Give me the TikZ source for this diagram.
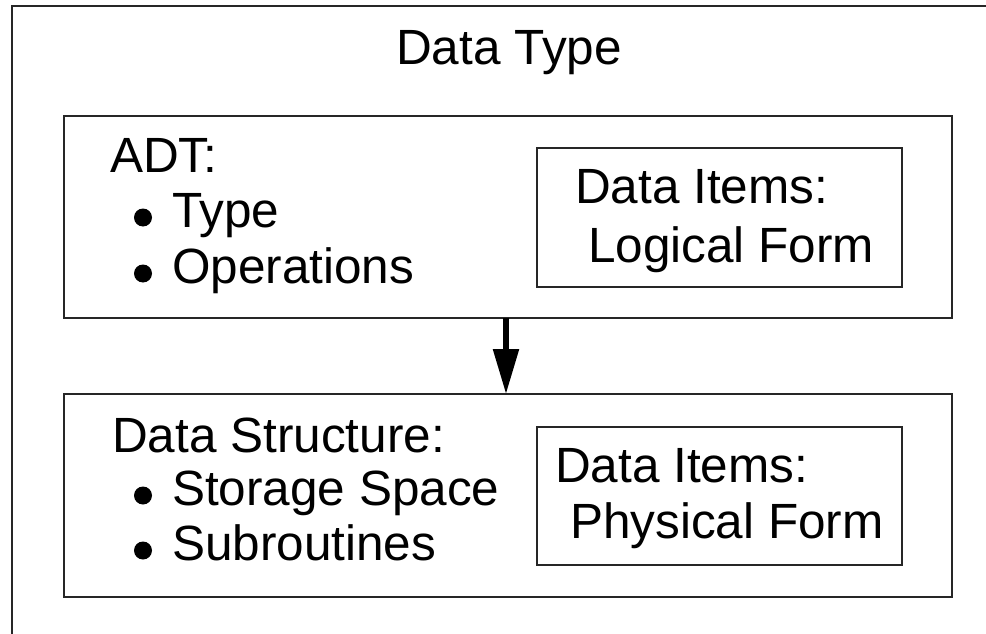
\documentclass[tikz,border=0pt]{standalone}
\usepackage{fontspec}
\setmainfont{Liberation Sans}
\usetikzlibrary{arrows.meta}
\begin{document}
\begin{tikzpicture}[x=1pt,y=-1pt,
  frame/.style={draw=black!85,line width=2.2pt},
  boxnode/.style={draw=black!85,line width=2.2pt,inner sep=0pt,outer sep=0pt},
  txt/.style={inner sep=0pt,outer sep=0pt,anchor=base west,font=\fontsize{49.5}{56}\selectfont},
  bulletdot/.style={circle,fill=black,inner sep=0pt,outer sep=0pt,minimum size=18pt},
  flow/.style={line width=5.5pt,-{Triangle[width=25pt,length=45pt]}}]
\useasboundingbox (0,0) rectangle (986,634);
\fill[white] (0,0) rectangle (986,634);
% outer frame (only top and left edges are visible)
\coordinate (otr) at (990,6);
\coordinate (otl) at (12,6);
\coordinate (obl) at (12,640);
\draw[frame] (otr) -- (otl) -- (obl);
\node[txt,anchor=base] (title) at (509,65) {Data Type};
% upper box
\node[boxnode,minimum width=888pt,minimum height=202pt] (upper) at (508,217) {};
\node[boxnode,minimum width=365pt,minimum height=139pt] (logical) at (719.5,217.5) {};
\node[txt] (adt) at (110,172) {ADT:};
\node[bulletdot] (ba) at (143,217.5) {};
\node[txt] (adta) at (172,227) {Type};
\node[bulletdot] (bb) at (143,273.5) {};
\node[txt] (adtb) at (172,283) {Operations};
\node[txt] (logA) at (575,203) {Data Items:};
\node[txt] (logB) at (588,262) {Logical Form};
% lower box
\node[boxnode,minimum width=888pt,minimum height=203pt] (lower) at (508,495.5) {};
\node[boxnode,minimum width=365pt,minimum height=138pt] (physical) at (719.5,496) {};
\node[txt] (ds) at (112,452) {Data Structure:};
\node[bulletdot] (bc) at (143,495.5) {};
\node[txt] (dsa) at (172,505) {Storage Space};
\node[bulletdot] (bd) at (143,550.5) {};
\node[txt] (dsb) at (172,560) {Subroutines};
\node[txt] (phyA) at (555,482) {Data Items:};
\node[txt] (phyB) at (570,538) {Physical Form};
% arrow
\draw[flow] ([xshift=-2pt]upper.south) -- ([xshift=-2pt]lower.north);
\end{tikzpicture}
\end{document}
